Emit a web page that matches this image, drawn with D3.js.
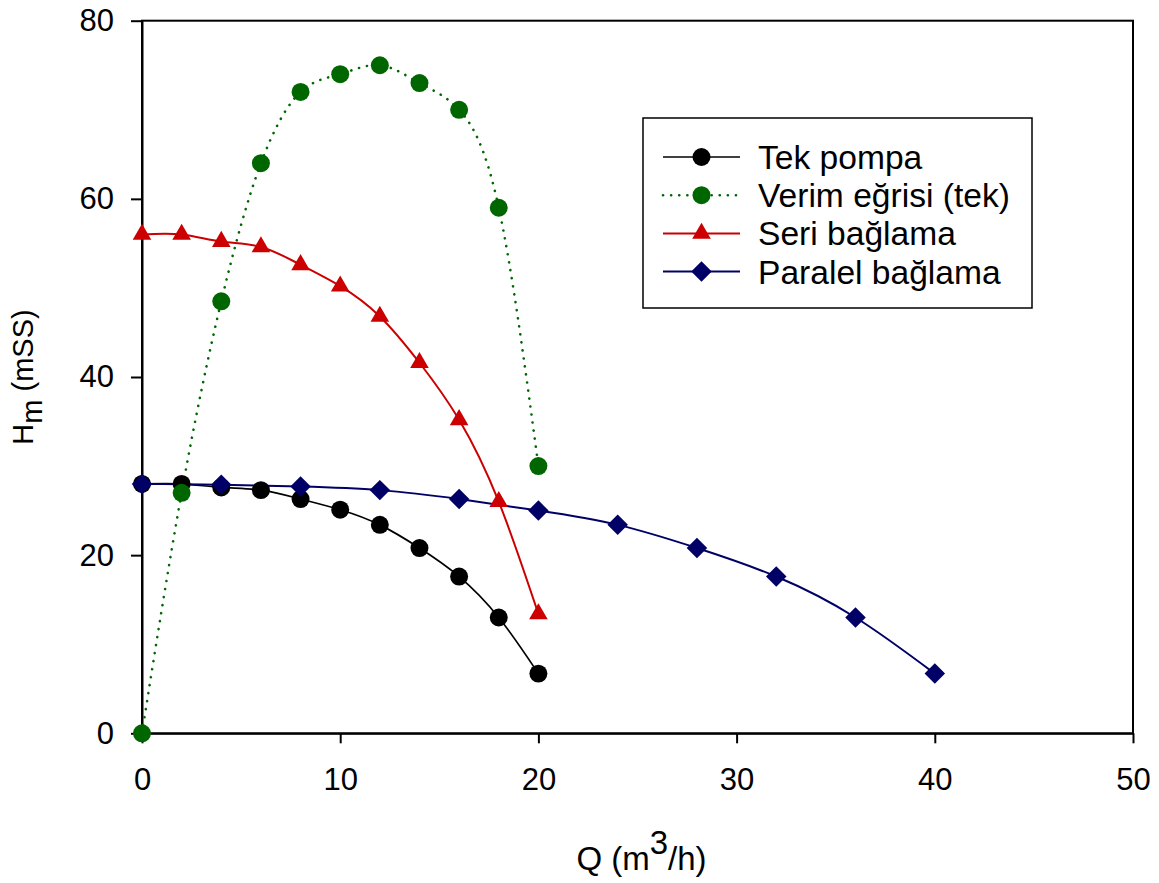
<!DOCTYPE html>
<html>
<head>
<meta charset="utf-8">
<script src="https://cdn.jsdelivr.net/npm/d3@7"></script>
<style>
  body { margin: 0; background: #fff; }
  svg { font-family: "Liberation Sans", Arial, sans-serif; }
</style>
</head>
<body>
<svg id="chart"></svg>
<script>
// data
const qSingle = [0, 2, 4, 6, 8, 10, 12, 14, 16, 18, 20];
const hSingle = [28.0, 28.0, 27.6, 27.3, 26.3, 25.1, 23.4, 20.8, 17.6, 13.0, 6.7];
const effSingle = [0, 27, 48.5, 64, 72, 74, 75, 73, 70, 59, 30];
const hSeries = [56, 56, 55.2, 54.6, 52.6, 50.2, 46.8, 41.6, 35.2, 26.0, 13.4];
const qParallel = [0, 4, 8, 12, 16, 20, 24, 28, 32, 36, 40];
const hParallel = [28.0, 27.9, 27.7, 27.3, 26.3, 25.0, 23.4, 20.8, 17.6, 13.0, 6.7];
const xTicks = [0, 10, 20, 30, 40, 50];
const yTicks = [0, 20, 40, 60, 80];

const series = [
  { name: 'Tek pompa', x: qSingle, y: hSingle, color: '#000000', symbol: d3.symbolCircle, size: 254, dash: null, lw: 1.7, rot: 0 },
  { name: 'Verim eğrisi (tek)', x: qSingle, y: effSingle, color: '#006600', symbol: d3.symbolCircle, size: 254, dash: '0.1,8', lw: 2.6, rot: 0 },
  { name: 'Seri bağlama', x: qSingle, y: hSeries, color: '#cc0000', symbol: d3.symbolTriangle, size: 150, dash: null, lw: 2, rot: 0 },
  { name: 'Paralel bağlama', x: qParallel, y: hParallel, color: '#000066', symbol: d3.symbolSquare, size: 210, dash: null, lw: 2, rot: 45 }
];

const width = 1159;
const height = 883;
const margin = { top: 20.7, right: 26, bottom: 149.7, left: 142 };
const chartWidth = width - margin.left - margin.right;
const chartHeight = height - margin.top - margin.bottom;

const svg = d3.select('#chart')
  .attr('width', width)
  .attr('height', height);

const g = svg.append('g')
  .attr('transform', `translate(${margin.left}, ${margin.top})`);

const xScale = d3.scaleLinear().domain([0, 50]).range([0, chartWidth]);
const yScale = d3.scaleLinear().domain([0, 80]).range([chartHeight, 0]);

// frame
g.append('rect')
  .attr('width', chartWidth)
  .attr('height', chartHeight)
  .attr('fill', 'none')
  .attr('stroke', '#000')
  .attr('stroke-width', 2);

// axes
const xAxis = g.append('g')
  .attr('transform', `translate(0, ${chartHeight})`)
  .call(d3.axisBottom(xScale).tickValues(xTicks).tickSize(10).tickPadding(25).tickSizeOuter(0));

const yAxis = g.append('g')
  .call(d3.axisLeft(yScale).tickValues(yTicks).tickSize(11).tickPadding(17).tickSizeOuter(0));

[xAxis, yAxis].forEach((ax) => {
  ax.select('.domain').attr('stroke-width', 2);
  ax.selectAll('.tick line').attr('stroke-width', 2);
  ax.selectAll('.tick text')
    .attr('font-size', 31)
    .attr('font-family', '"Liberation Sans", Arial, sans-serif')
    .attr('fill', '#000');
});

// lines and markers
const plot = g.append('g');
series.forEach((s) => {
  const pts = s.x.map((x, i) => [x, s.y[i]]);
  const line = d3.line()
    .x((d) => xScale(d[0]))
    .y((d) => yScale(d[1]))
    .curve(d3.curveNatural);

  plot.append('path')
    .datum(pts)
    .attr('d', line)
    .attr('fill', 'none')
    .attr('stroke', s.color)
    .attr('stroke-width', s.lw)
    .attr('stroke-dasharray', s.dash)
    .attr('stroke-linecap', s.dash ? 'round' : 'butt');
});

series.forEach((s) => {
  const pts = s.x.map((x, i) => [x, s.y[i]]);
  plot.selectAll(null)
    .data(pts)
    .enter()
    .append('path')
    .attr('d', d3.symbol().type(s.symbol).size(s.size))
    .attr('transform', (d) => `translate(${xScale(d[0])}, ${yScale(d[1])}) rotate(${s.rot})`)
    .attr('fill', s.color);
});

// legend
const legend = svg.append('g');
legend.append('rect')
  .attr('x', 643)
  .attr('y', 118)
  .attr('width', 389)
  .attr('height', 190)
  .attr('fill', '#fff')
  .attr('stroke', '#000')
  .attr('stroke-width', 1.5);

const rows = legend.selectAll('.row')
  .data(series)
  .enter()
  .append('g')
  .attr('class', 'row')
  .attr('transform', (_, i) => `translate(663, ${157 + i * 38.2})`);

rows.append('line')
  .attr('x1', 0)
  .attr('x2', 77)
  .attr('stroke', (d) => d.color)
  .attr('stroke-width', (d) => d.lw)
  .attr('stroke-dasharray', (d) => d.dash)
  .attr('stroke-linecap', (d) => (d.dash ? 'round' : 'butt'));

rows.append('path')
  .attr('d', (d) => d3.symbol().type(d.symbol).size(d.size)())
  .attr('transform', (d) => `translate(38.5, 0) rotate(${d.rot})`)
  .attr('fill', (d) => d.color);

rows.append('text')
  .attr('x', 95)
  .attr('y', 12)
  .attr('font-size', 33.6)
  .text((d) => d.name);

// axis titles
const xTitle = svg.append('text')
  .attr('x', margin.left + chartWidth / 2 + 4)
  .attr('y', 870)
  .attr('text-anchor', 'middle')
  .attr('font-size', 33);
xTitle.append('tspan').text('Q (m');
xTitle.append('tspan').attr('dy', -16).text('3');
xTitle.append('tspan').attr('dy', 16).text('/h)');

const yTitle = svg.append('text')
  .attr('transform', `translate(33, ${margin.top + chartHeight / 2}) rotate(-90)`)
  .attr('text-anchor', 'middle')
  .attr('font-size', 29);
yTitle.append('tspan').text('H');
yTitle.append('tspan').attr('dy', 9).text('m');
yTitle.append('tspan').attr('dy', -9).text(' (mSS)');
</script>
</body>
</html>
